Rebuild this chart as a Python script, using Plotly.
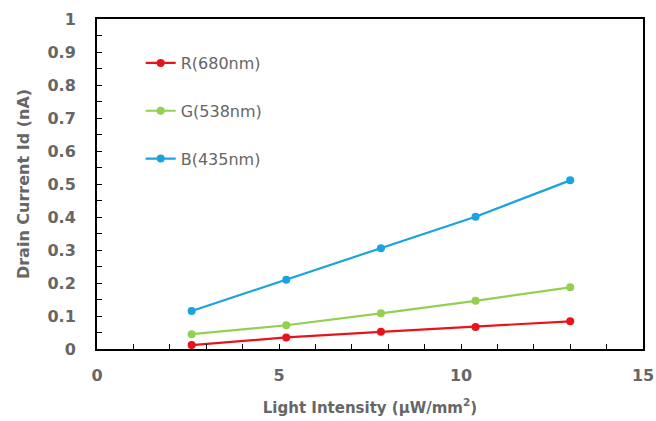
import plotly.graph_objects as go

intensity = [2.6, 5.2, 7.8, 10.4, 13.0]
red_vals = [0.012, 0.035, 0.052, 0.067, 0.084]
green_vals = [0.045, 0.072, 0.108, 0.146, 0.187]
blue_vals = [0.115, 0.210, 0.305, 0.401, 0.511]
names = ["R(680nm)", "G(538nm)", "B(435nm)"]
colors = ["#e8141c", "#92d050", "#1aa3e0"]

fig = go.Figure()
for i, (name, vals, c) in enumerate(zip(names, [red_vals, green_vals, blue_vals], colors)):
    fig.add_trace(go.Scatter(
        x=intensity, y=vals, name=name, mode="lines+markers",
        line=dict(color=c, width=2.2), marker=dict(color=c, size=8),
        legendgroup=f"g{i}"))

txt = "#666666"
fam = "DejaVu Sans, sans-serif"
fig.update_layout(
    width=656, height=421,
    margin=dict(l=97, r=13, t=19, b=72, autoexpand=False),
    paper_bgcolor="white", plot_bgcolor="white",
    font=dict(family=fam, color=txt, size=14),
    showlegend=True,
    legend=dict(x=0.08, y=0.918, xanchor="left", yanchor="top",
                bgcolor="rgba(0,0,0,0)", tracegroupgap=24,
                font=dict(size=16, color=txt, family=fam, weight=500), itemwidth=30),
    xaxis=dict(range=[0, 15], dtick=5, showgrid=False, zeroline=False, automargin=False,
               showline=True, linecolor="black", linewidth=2, mirror=True,
               ticks="inside", ticklen=5, tickcolor="black", ticklabelstandoff=11,
               minor=dict(dtick=1, ticks="inside", ticklen=5, tickcolor="black"),
               tickfont=dict(size=16, color=txt, family=fam, weight="bold"),
               title=dict(text="<b>Light Intensity (μW/mm<sup>2</sup>)</b>", font=dict(size=15, color=txt, family=fam), standoff=18)),
    yaxis=dict(range=[0, 1], dtick=0.1, showgrid=False, zeroline=False, automargin=False,
               showline=True, linecolor="black", linewidth=2, mirror=True,
               ticks="inside", ticklen=5, tickcolor="black", ticklabelstandoff=16,
               minor=dict(dtick=0.05, ticks="inside", ticklen=5, tickcolor="black"),
               tickfont=dict(size=16, color=txt, family=fam, weight="bold"),
               title=dict(text="<b>Drain Current Id (nA)</b>", font=dict(size=16, color=txt, family=fam), standoff=14)),
)

fig.write_html("out.html", config={"displayModeBar": False},
               post_script="document.body.style.margin='0';")
